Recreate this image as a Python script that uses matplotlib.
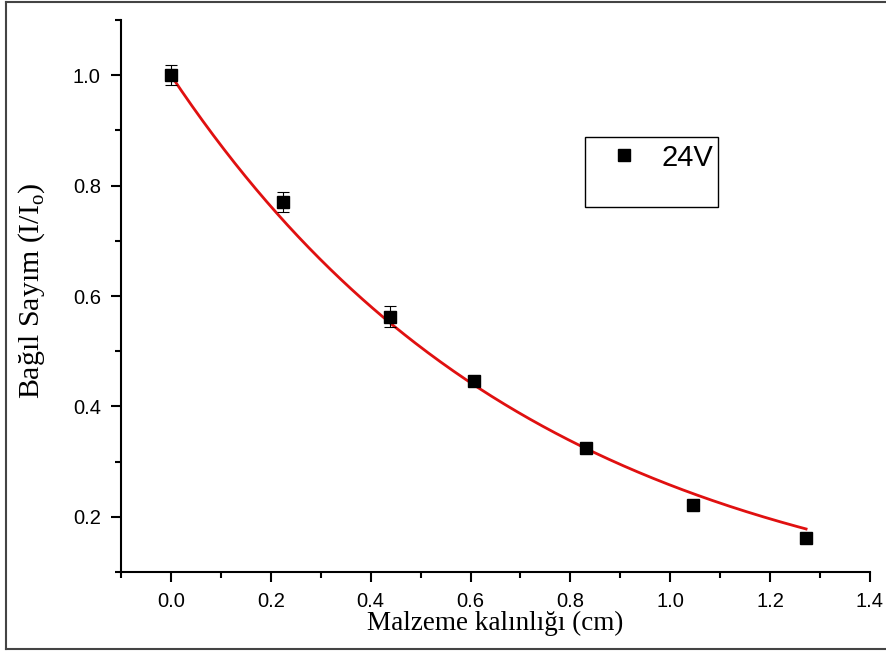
import numpy as np
import matplotlib
matplotlib.use("Agg")
import matplotlib.pyplot as plt
from matplotlib.lines import Line2D
from matplotlib.patches import Rectangle
from matplotlib.ticker import MultipleLocator, FormatStrFormatter

plt.rcParams["font.family"] = ["Liberation Sans", "DejaVu Sans"]

# Data
thickness = [0.0, 0.224, 0.439, 0.607, 0.831, 1.046, 1.272]
rel_count = [1.0, 0.770, 0.562, 0.446, 0.325, 0.221, 0.162]
rel_err = [0.018, 0.018, 0.019, 0.008, 0.006, 0.005, 0.004]
series_label = "24V"

# Exponential fit parameters (I/I0 = A*exp(-mu*x))
fit_A = 1.0
fit_mu = 1.357
fit_xmax = 1.272

x_label = "Malzeme kalınlığı (cm)"
y_label = "Bağıl Sayım (I/I$_\\mathregular{o}$)"

fig = plt.figure(figsize=(8.86, 6.53), dpi=100)
ax = fig.add_axes([121/886, 1-572/653, (870-121)/886, (572-20)/653])

xf = np.linspace(0, fit_xmax, 300)
ax.plot(xf, fit_A*np.exp(-fit_mu*xf), color="#e01010", lw=2.0, zorder=2)
ax.errorbar(thickness, rel_count, yerr=rel_err, fmt="s", color="black",
            ms=9, ecolor="black", elinewidth=0.8, capsize=4.5, capthick=0.8, zorder=3)

ax.set_xlim(-0.1, 1.4)
ax.set_ylim(0.1, 1.1)
for s in ["top", "right"]:
    ax.spines[s].set_visible(False)
for s in ["left", "bottom"]:
    ax.spines[s].set_linewidth(1.5)

ax.xaxis.set_minor_locator(MultipleLocator(0.1))
ax.yaxis.set_minor_locator(MultipleLocator(0.1))
ax.xaxis.set_major_formatter(FormatStrFormatter("%.1f"))
ax.yaxis.set_major_formatter(FormatStrFormatter("%.1f"))
ax.set_xticks([0.0, 0.2, 0.4, 0.6, 0.8, 1.0, 1.2, 1.4])
ax.set_yticks([0.2, 0.4, 0.6, 0.8, 1.0])
ax.tick_params(which="major", direction="out", length=7.5, width=1.5, labelsize=14.5, pad=7)
ax.tick_params(which="minor", direction="out", length=4, width=1.5)

ax.set_xlabel(x_label, fontfamily="Liberation Serif", fontsize=19.5, labelpad=0)
ax.set_ylabel(y_label, fontfamily="Liberation Serif", fontsize=21.5)
ax.yaxis.set_label_coords(-0.099, 0.51)

# Legend box
ax.add_patch(Rectangle((0.6195, 0.661), 0.178, 0.127, transform=ax.transAxes,
                       fill=False, edgecolor="black", lw=1.0, zorder=5))
h = Line2D([], [], marker="s", color="black", ls="none", ms=8)
ax.legend([h], [series_label], loc="upper left", bbox_to_anchor=(0.617, 0.8236),
          frameon=False, prop={"family": "Liberation Sans", "size": 21},
          handletextpad=0.8, handlelength=1.0)

# Outer frame lines
fig.add_artist(Line2D([6/886, 6/886], [1-2/653, 1-649/653], color="#444444", lw=1.5))
fig.add_artist(Line2D([6/886, 1], [1-2/653, 1-2/653], color="#444444", lw=1.5))
fig.add_artist(Line2D([6/886, 1], [1-649/653, 1-649/653], color="#444444", lw=1.5))

fig.savefig("out.png", dpi=100)
